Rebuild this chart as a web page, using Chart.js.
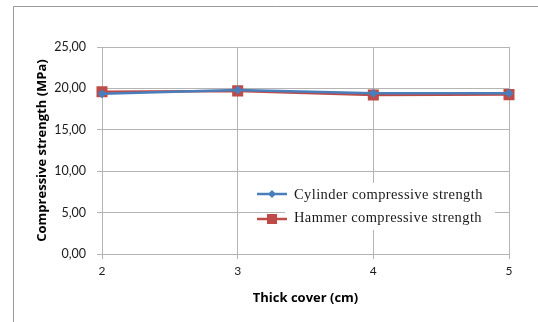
<!DOCTYPE html>
<html>
<head>
<meta charset="utf-8">
<script src="https://cdn.jsdelivr.net/npm/chart.js@4.4.1/dist/chart.umd.min.js"></script>
<style>
  html, body { margin: 0; padding: 0; background: #fff; }
  #wrap { position: relative; width: 538px; height: 322px; }
</style>
</head>
<body>
<div id="wrap"><canvas id="myChart" width="538" height="322"></canvas></div>
<script>
// data
const thickCover = ['2', '3', '4', '5'];
const cylinderStrength = [19.35, 19.8, 19.4, 19.4];
const hammerStrength = [19.6, 19.7, 19.2, 19.25];
const yTickLabels = ['0,00', '5,00', '10,00', '15,00', '20,00', '25,00'];

const seriesNames = ['Cylinder compressive strength', 'Hammer compressive strength'];
const gridColor = '#b4b4b4';
const blue = '#4a7ebb';
const red = '#be4b48';

// outer frame (left + top edges only, like the cropped original)
const framePlugin = {
    id: 'frame',
    beforeDraw(chart) {
        let c = chart.ctx;
        c.save();
        c.strokeStyle = '#9a9a9a';
        c.lineWidth = 1;
        c.beginPath();
        c.moveTo(13.5, 322);
        c.lineTo(13.5, 6.5);
        c.lineTo(538, 6.5);
        c.stroke();
        c.restore();
    }
};

// legend sitting inside the plot, drawn by hand
const boxLegend = {
    id: 'boxLegend',
    afterDatasetsDraw(chart) {
        let c = chart.ctx;
        c.save();
        c.fillStyle = '#fff';
        c.fillRect(285, 183, 210, 47);

        let rows = [
            { y: 194, ty: 195, color: blue, shape: 'diamond' },
            { y: 219, ty: 218, color: red, shape: 'square' }
        ];
        rows.forEach((r, i) => {
            c.strokeStyle = r.color;
            c.lineWidth = 2.5;
            c.beginPath();
            c.moveTo(257, r.y);
            c.lineTo(287, r.y);
            c.stroke();
            c.fillStyle = r.color;
            c.beginPath();
            if (r.shape == 'diamond') {
                c.moveTo(272, r.y - 4);
                c.lineTo(276, r.y);
                c.lineTo(272, r.y + 4);
                c.lineTo(268, r.y);
                c.closePath();
            } else {
                c.rect(267, r.y - 5, 10, 10);
            }
            c.fill();

            c.fillStyle = '#1a1a1a';
            c.font = '14.5px "Liberation Serif"';
            c.letterSpacing = '0.4px';
            c.textBaseline = 'middle';
            c.textAlign = 'left';
            c.fillText(chart.data.datasets[i].label, 294, r.ty);
        });
        c.restore();
    }
};

let ctx = document.getElementById('myChart');

let myChart = new Chart(ctx, {
    type: 'line',
    data: {
        labels: thickCover,
        datasets: [{
            label: seriesNames[0],
            data: cylinderStrength,
            borderColor: blue,
            backgroundColor: blue,
            borderWidth: 2.5,
            pointStyle: 'rectRot',
            pointRadius: 4.5,
            pointBorderWidth: 0,
            tension: 0
        }, {
            label: seriesNames[1],
            data: hammerStrength,
            borderColor: red,
            backgroundColor: red,
            borderWidth: 2.5,
            pointStyle: 'rect',
            pointRadius: 7.8,
            pointBorderWidth: 0,
            tension: 0
        }]
    },
    options: {
        responsive: false,
        animation: false,
        layout: {
            padding: { left: 0, top: 47, right: 29, bottom: 0 }
        },
        plugins: {
            legend: { display: false },
            tooltip: { enabled: false }
        },
        scales: {
            x: {
                offset: false,
                grid: { color: gridColor, tickLength: 5, drawTicks: true },
                border: { color: gridColor },
                ticks: {
                    color: '#1a1a1a',
                    padding: 5,
                    maxRotation: 0,
                    font: { family: 'Lato', size: 12 }
                },
                title: {
                    display: true,
                    text: 'Thick cover (cm)',
                    color: '#000',
                    font: { family: 'Open Sans', size: 13, weight: 'bold' },
                    padding: { top: 0, bottom: 16 }
                },
                afterFit: (scale) => { scale.height = 68; }
            },
            y: {
                min: 0,
                max: 25,
                grid: { color: gridColor, tickLength: 5, drawTicks: true },
                border: { color: gridColor },
                ticks: {
                    stepSize: 5,
                    color: '#1a1a1a',
                    padding: 11,
                    font: { family: 'Lato', size: 12.5 },
                    callback: (v, i) => yTickLabels[i]
                },
                title: {
                    display: true,
                    text: 'Compressive strength (MPa)',
                    color: '#000',
                    font: { family: 'Open Sans', size: 13, weight: 'bold' },
                    padding: { top: 34, bottom: 0 }
                },
                afterFit: (scale) => { scale.width = 102; }
            }
        }
    },
    plugins: [framePlugin, boxLegend]
});
</script>
</body>
</html>
